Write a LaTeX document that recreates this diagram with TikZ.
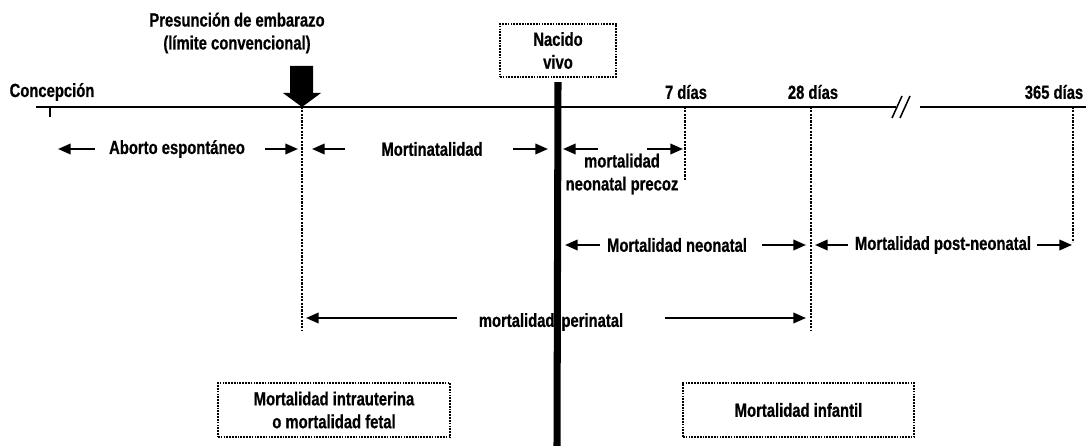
\documentclass[tikz,border=0pt]{standalone}
\usepackage{fontspec}
\setmainfont{Liberation Sans}[FakeStretch=0.78,FakeBold=0.6]
\usetikzlibrary{arrows.meta,calc}

\begin{document}
\begin{tikzpicture}[x=0.025cm,y=-0.025cm,>={Stealth[length=9pt,width=7.5pt,inset=0pt]},font=\fontsize{13.5}{16.3}\selectfont\bfseries]
\tikzstyle{box}=[draw,dash pattern=on 1.2pt off 0.8pt,line width=1.5pt,align=center,inner sep=0pt]
\tikzstyle{arr}=[->,line width=1.4pt]
\tikzstyle{lim}=[line width=2pt,dash pattern=on 1.5pt off 0.9pt]
\useasboundingbox (0,0) rectangle (1086,446);
% time axis
\coordinate (start) at (36,107); \coordinate (end) at (1086,107);
\coordinate (conc) at (50,107); \coordinate (pres) at (302,107); \coordinate (nac) at (557,107);
\coordinate (d7) at (685,107); \coordinate (d28) at (811,107); \coordinate (d365) at (1073,107);
\coordinate (brka) at (896,107); \coordinate (brkb) at (920,107);
\draw[line width=1.4pt] (start) -- (brka); \draw[line width=1.4pt] (brkb) -- (end);
\draw[line width=1.1pt] (892,118) -- (902,96) (900,118) -- (910,96);
\draw[line width=2pt] (conc) -- ++(0,10);
\node (lconc) at (52,92) {Concepción};
\node (l7) at (686,92) {7 días}; \node (l28) at (813,92) {28 días}; \node (l365) at (1054,92) {365 días};
\node[align=center] (lpres) at (237,33) {Presunción de embarazo\\(límite convencional)};
\fill ($(pres)+(-12,-41)$) -- ++(23,0) -- ++(0,27) -- ++(8,0) -- (pres) -- ($(pres)+(-19,-14)$) -- ++(7,0) -- cycle;
\node[box,minimum width=2.9cm,minimum height=1.325cm] (bnac) at (558,50.5) {Nacido\\vivo};
% limits
\draw[lim] (pres) -- ++(0,223); \draw[lim] (d7) -- ++(0,73); \draw[lim] (d28) -- ++(0,223); \draw[lim] (d365) -- ++(0,135);
% periods
\node (abo) at (177,149) {Aborto espontáneo};
\node (mnat) at (432,149) {Mortinatalidad};
\node[align=center] (mprec) at (622,174) {mortalidad\\neonatal precoz};
\node (mneo) at (677,245) {Mortalidad neonatal};
\node (mpost) at (943,245) {Mortalidad post-neonatal};
\node (mperi) at (551,322) {mortalidad\hspace{2pt} perinatal};
\draw[arr] ($(conc|-abo)+(45,0)$) -- ($(conc|-abo)+(8,0)$); \draw[arr] ($(pres|-abo)+(-37,0)$) -- ($(pres|-abo)+(-4,0)$);
\draw[arr] ($(pres|-mnat)+(43,0)$) -- ($(pres|-mnat)+(10,0)$); \draw[arr] ($(nac|-mnat)+(-44,0)$) -- ($(nac|-mnat)+(-9,0)$);
\draw[arr] ($(nac|-mnat)+(41,0)$) -- ($(nac|-mnat)+(6,0)$); \draw[arr] ($(d7|-mnat)+(-38,0)$) -- ($(d7|-mnat)+(-2,0)$);
\draw[arr] ($(nac|-mneo)+(43,0)$) -- ($(nac|-mneo)+(8,0)$); \draw[arr] ($(d28|-mneo)+(-49,0)$) -- ($(d28|-mneo)+(-5,0)$);
\draw[arr] ($(d28|-mpost)+(37,0)$) -- ($(d28|-mpost)+(4,0)$); \draw[arr] ($(d365|-mpost)+(-36,0)$) -- ($(d365|-mpost)+(-1,0)$);
\draw[arr] ($(pres|-mperi)+(155,-4)$) -- ($(pres|-mperi)+(4,-4)$); \draw[arr] ($(d28|-mperi)+(-146,-4)$) -- ($(d28|-mperi)+(-5,-4)$);
% live birth
\draw[line width=5pt] ([yshift=-0.1cm]bnac.south) -- (nac |- 0,446);
\node[box,minimum width=5.8cm,minimum height=1.35cm] (bfet) at (334,410) {Mortalidad intrauterina\\o mortalidad fetal};
\node[box,minimum width=5.775cm,minimum height=1.35cm] (binf) at (798.5,410) {Mortalidad infantil};
\end{tikzpicture}
\end{document}
